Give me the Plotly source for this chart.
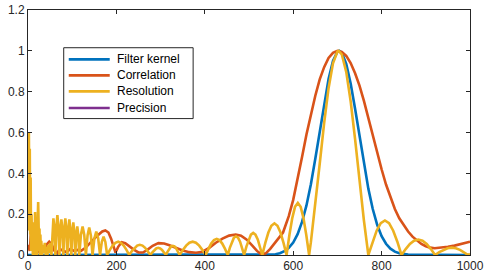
import plotly.graph_objects as go

series_names = ["Filter kernel", "Correlation", "Resolution", "Precision"]
series_colors = ["#0072BD", "#D95319", "#EDB120", "#7E2F8E"]

x_ticks = [0, 200, 400, 600, 800, 1000]
y_ticks = [0, 0.2, 0.4, 0.6, 0.8, 1, 1.2]

# Filter kernel
kernel_x = [0, 560, 570, 580, 590, 600, 610, 620, 630, 640, 650, 660, 670, 680, 690, 700, 704,
            710, 720, 730, 740, 750, 760, 770, 780, 790, 800, 810, 820, 830, 840, 850, 860, 1000]
kernel_y = [0, 0.004, 0.009, 0.019, 0.035, 0.061, 0.102, 0.162, 0.243, 0.347, 0.471, 0.607, 0.742,
            0.862, 0.951, 0.996, 1.0, 0.991, 0.936, 0.840, 0.716, 0.579, 0.445, 0.325, 0.225, 0.148,
            0.0925, 0.055, 0.031, 0.0166, 0.0084, 0.004, 0.002, 0]

# Correlation
corr_x = [0, 4, 7, 10, 13, 17, 21, 26, 31, 36, 42, 48, 54, 60, 66, 72, 80, 88, 96, 104, 112, 120,
          130, 140, 150, 160, 168, 175, 182, 188, 193, 198, 204, 212, 220, 230, 240, 250, 260, 270,
          282, 295, 308, 320, 335, 350, 365, 380, 395, 410, 425, 440, 455, 470, 482, 495, 508, 518,
          528, 538, 548, 558, 568, 577, 590, 600, 610, 620, 630, 640, 650, 660, 670, 680, 690, 700,
          710, 720, 730, 740, 750, 760, 770, 780, 790, 800, 810, 820, 830, 840, 850, 860, 870, 880,
          890, 900, 910, 920, 935, 950, 965, 980, 1000]
corr_y = [0.05, 0.02, 0.12, 0.03, 0.08, 0.0, 0.06, 0.01, 0.04, 0.02, 0.05, 0.065, 0.05, 0.02, 0.01,
          0.03, 0.02, 0.015, 0.03, 0.02, 0.025, 0.02, 0.035, 0.055, 0.08, 0.1, 0.115, 0.12, 0.11,
          0.08, 0.04, 0.012, 0.04, 0.063, 0.058, 0.04, 0.025, 0.013, 0.012, 0.025, 0.045, 0.058,
          0.056, 0.048, 0.035, 0.022, 0.014, 0.011, 0.016, 0.035, 0.06, 0.08, 0.095, 0.1, 0.095,
          0.075, 0.045, 0.02, 0.003, 0.008, 0.03, 0.055, 0.085, 0.11, 0.19, 0.27, 0.37, 0.48, 0.59,
          0.69, 0.78, 0.86, 0.92, 0.965, 0.99, 1.0, 0.995, 0.975, 0.94, 0.89, 0.83, 0.755, 0.67,
          0.585, 0.5, 0.42, 0.345, 0.28, 0.225, 0.18, 0.145, 0.115, 0.09, 0.07, 0.054, 0.043, 0.036,
          0.033, 0.035, 0.04, 0.046, 0.054, 0.065]

# Resolution
res_x = [0, 1, 2, 3, 4, 5, 6, 7, 8, 9, 10, 11, 12, 13, 14, 15, 16, 17, 18, 19, 20, 21, 22, 23, 24,
         25, 26, 27, 28, 29, 30, 32, 34, 36, 38, 40, 42, 44, 46, 48, 50,
         53, 55.25, 57.5, 59.75, 62, 64.25, 66.5, 68.75, 71, 73.25, 75.5, 77.75,
         80, 82.25, 84.5, 86.75, 89, 91.25, 93.5, 95.75, 98, 100.25, 102.5, 104.75,
         107, 109.25, 111.5, 113.75,
         116, 119.75, 123.5, 127.25, 131, 134.75, 138.5, 142.25, 146, 150.25, 154.5, 158.75,
         163, 167, 171, 175,
         179, 185.25, 191.5, 197.75, 204, 210.25, 216.5, 222.75,
         229, 235, 241, 247, 253, 259, 265, 271,
         277, 281.4, 285.8, 290.1, 294.5, 298.9, 303.3, 307.6,
         312, 315.9, 319.8, 323.6, 327.5, 331.4, 335.3, 339.1,
         343, 350.4, 357.8, 365.1, 372.5, 379.9, 387.3, 394.6,
         402, 408.3, 414.5, 420.8, 427, 433.3, 439.5, 445.8,
         452, 456.6, 461.3, 465.9, 470.5, 475.1, 479.8, 484.4,
         489, 494.1, 499.3, 504.4, 509.5, 514.6, 519.8, 524.9,
         530, 536.9, 543.8, 550.6, 557.5, 564.4, 571.3, 578.1,
         585, 591.4, 597.8, 604.1, 610.5, 616.9, 623.3, 629.6,
         636, 640, 650, 660, 670, 680, 690, 700, 703, 710, 720, 730, 740, 750, 760,
         770, 779.4, 788.8, 798.1, 807.5, 816.9, 826.3, 835.6,
         845, 854.5, 864, 873.5, 883, 892.5, 902, 911.5,
         921, 930.4, 939.8, 949.1, 958.5, 967.9, 977.3, 986.6,
         996, 1000]
res_y = [0.12, 0.45, 0.6, 0.3, 0.52, 0.1, 0.38, 0.02, 0.2, 0.05, 0.14, 0.0, 0.09, 0.03, 0.16, 0.0,
         0.21, 0.1, 0.02, 0.12, 0.0, 0.18, 0.1, 0.26, 0.15, 0.02, 0.13, 0.0, 0.1, 0.02, 0.07, 0.0,
         0.05, 0.01, 0.06, 0.0, 0.04, 0.0, 0.05, 0.01, 0.06,
         0, 0.128, 0.18, 0.128, 0, 0.138, 0.195, 0.138, 0, 0.124, 0.175, 0.124,
         0, 0.128, 0.18, 0.128, 0, 0.124, 0.175, 0.124, 0, 0.114, 0.16, 0.114,
         0, 0.099, 0.14, 0.099,
         0, 0.099, 0.14, 0.099, 0, 0.096, 0.135, 0.096, 0, 0.082, 0.115, 0.082,
         0, 0.064, 0.09, 0.064,
         0, 0.025, 0.046, 0.06, 0.065, 0.06, 0.046, 0.025,
         0, 0.019, 0.035, 0.046, 0.05, 0.046, 0.035, 0.019,
         0, 0.013, 0.025, 0.032, 0.035, 0.032, 0.025, 0.013,
         0, 0.017, 0.032, 0.042, 0.045, 0.042, 0.032, 0.017,
         0, 0.025, 0.046, 0.06, 0.065, 0.06, 0.046, 0.025,
         0, 0.03, 0.056, 0.073, 0.079, 0.073, 0.056, 0.03,
         0, 0.035, 0.065, 0.085, 0.092, 0.085, 0.065, 0.035,
         0, 0.041, 0.076, 0.1, 0.108, 0.1, 0.076, 0.041,
         0, 0.059, 0.11, 0.143, 0.155, 0.143, 0.11, 0.059,
         0, 0.098, 0.18, 0.236, 0.255, 0.236, 0.18, 0.098,
         0, 0.063, 0.245, 0.447, 0.646, 0.817, 0.939, 0.997, 1.0, 0.982, 0.897, 0.753, 0.568,
         0.366, 0.169,
         0, 0.065, 0.119, 0.156, 0.169, 0.156, 0.119, 0.065,
         0, 0.029, 0.054, 0.07, 0.076, 0.07, 0.054, 0.029,
         0, 0.014, 0.025, 0.033, 0.036, 0.033, 0.025, 0.014,
         0, 0.006]

# Precision (not visible in the chart)
prec_x = [None]
prec_y = [None]

data = [(kernel_x, kernel_y), (corr_x, corr_y), (res_x, res_y), (prec_x, prec_y)]

FONT = "Liberation Sans, Arial, Helvetica, sans-serif"
AX = "#262626"

fig = go.Figure()
for (xs, ys), name, color in zip(data, series_names, series_colors):
    fig.add_trace(go.Scatter(x=xs, y=ys, mode="lines", name=name, showlegend=False,
                             line=dict(color=color, width=2.6)))

axis_common = dict(showline=True, linecolor=AX, linewidth=1, mirror="ticks",
                   ticks="inside", ticklen=4, tickcolor=AX, showgrid=False,
                   zeroline=False, automargin=False,
                   tickfont=dict(size=12, color=AX, family=FONT))

# Legend box drawn in paper coordinates (box, line samples, labels)
leg_x0, leg_x1, leg_y0, leg_y1 = 0.0808, 0.3736, 0.5568, 0.846
sample_x0, sample_x1, text_x = 0.0922, 0.1849, 0.1963
row_y = [0.7984, 0.7332, 0.6680, 0.6000]

shapes = [dict(type="rect", xref="paper", yref="paper", x0=leg_x0, x1=leg_x1, y0=leg_y0, y1=leg_y1,
               line=dict(color=AX, width=1), fillcolor="white", layer="above")]
annotations = []
for name, color, ry in zip(series_names, series_colors, row_y):
    shapes.append(dict(type="line", xref="paper", yref="paper", x0=sample_x0, x1=sample_x1,
                       y0=ry, y1=ry, line=dict(color=color, width=2.6), layer="above"))
    annotations.append(dict(xref="paper", yref="paper", x=text_x, y=ry, text=name,
                            showarrow=False, xanchor="left", yanchor="middle",
                            font=dict(size=12, color="#000000", family=FONT)))

fig.update_layout(
    width=492, height=280,
    margin=dict(l=28, r=22, t=9.5, b=25, autoexpand=False),
    paper_bgcolor="white", plot_bgcolor="white",
    font=dict(family=FONT, size=12, color=AX),
    xaxis=dict(range=[0, 1000], tickvals=x_ticks, **axis_common),
    yaxis=dict(range=[0, 1.2], tickvals=y_ticks, **axis_common),
    shapes=shapes, annotations=annotations,
    showlegend=False,
)

fig.write_html("out.html", config={"displayModeBar": False},
               post_script="document.body.style.margin='0px';")
